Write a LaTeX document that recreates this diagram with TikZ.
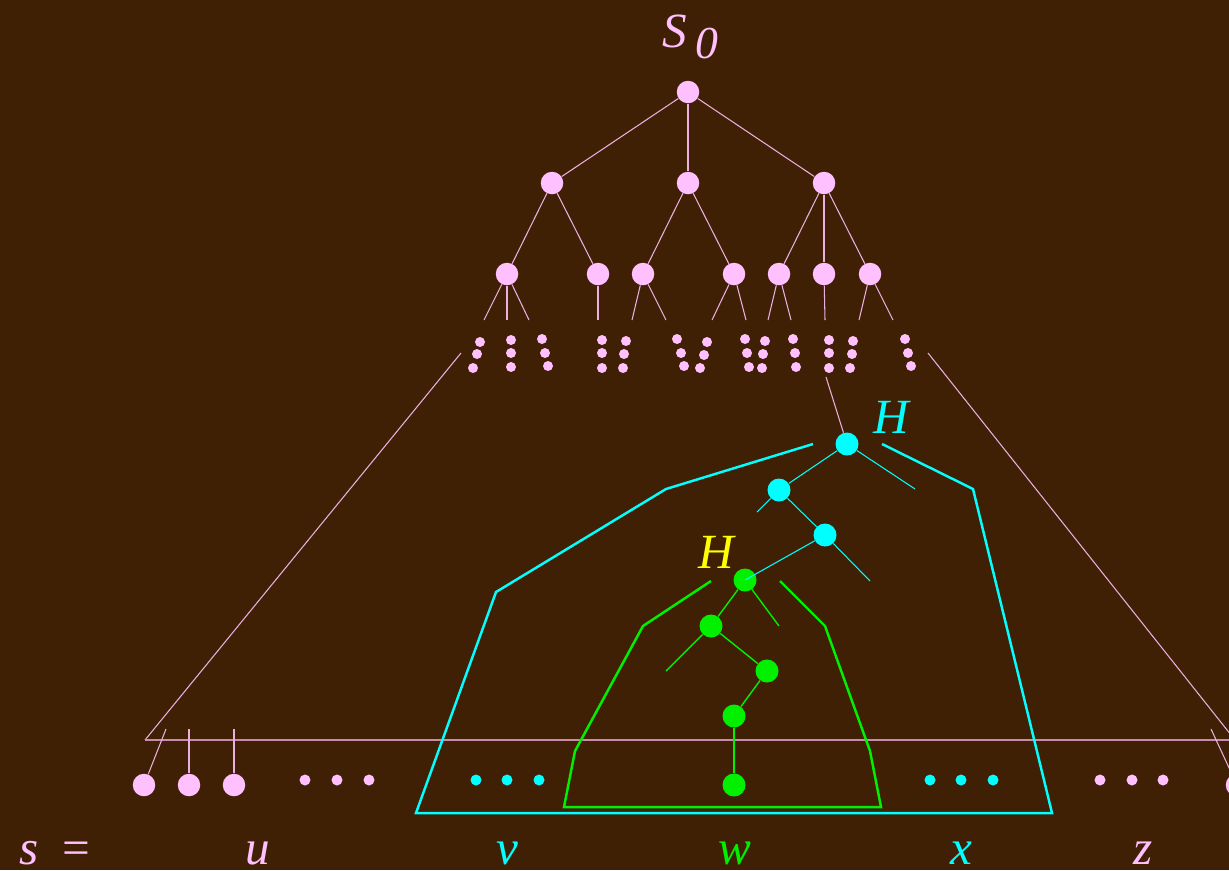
\documentclass[tikz,border=0pt]{standalone}
\usepackage{fontspec}
\setmainfont{Liberation Serif}
\definecolor{bg}{RGB}{64,32,4}
\definecolor{pk}{RGB}{255,192,255}
\definecolor{pkl}{RGB}{235,175,225}
\definecolor{pkh}{RGB}{200,140,170}
\definecolor{cy}{RGB}{0,255,255}
\definecolor{gr}{RGB}{0,240,0}
\definecolor{yl}{RGB}{255,255,0}
\begin{document}
\begin{tikzpicture}[x=0.02cm,y=-0.02cm,
  pnode/.style={circle,fill=pk,inner sep=0pt,minimum size=0.45cm},
  pdot/.style={circle,fill=pk,inner sep=0pt,minimum size=0.2cm},
  sdot/.style={circle,fill=#1,inner sep=0pt,minimum size=0.22cm},
  cnode/.style={circle,fill=cy,inner sep=0pt,minimum size=0.46cm},
  gnode/.style={circle,fill=gr,inner sep=0pt,minimum size=0.46cm},
  pedge/.style={draw=pkl,line width=0.6pt},
  cedge/.style={draw=cy,line width=0.6pt},
  gedge/.style={draw=gr,line width=0.8pt},
  cpoly/.style={draw=cy,line width=1.4pt},
  gpoly/.style={draw=gr,line width=1.4pt},
  lbl/.style={inner sep=0pt,anchor=base,font=\fontsize{28}{30}\selectfont\itshape},
  ]
\useasboundingbox (0,0) rectangle (1229,870);
\fill[bg] (0,0) rectangle (1229,870);

% big triangle
\coordinate (tl) at (461,353);
\coordinate (bl) at (145,740);
\coordinate (tr) at (928,353);
\coordinate (br) at (1235,740);
\coordinate (hr) at (1240,740);
\draw[pedge] (tl) -- (bl);
\draw[pedge] (tr) -- (br);
\draw[draw=pkh,line width=0.9pt] (bl) -- (hr);

% top tree
\node[pnode] (r) at (688,92) {};
\node[pnode] (b1) at (552,183) {};
\node[pnode] (b2) at (688,183) {};
\node[pnode] (b3) at (824,183) {};
\node[pnode] (a1) at (507,274) {};
\node[pnode] (a2) at (598,274) {};
\node[pnode] (a3) at (643,274) {};
\node[pnode] (a4) at (734,274) {};
\node[pnode] (a5) at (779,274) {};
\node[pnode] (a6) at (824,274) {};
\node[pnode] (a7) at (870,274) {};
\draw[pedge] (r) -- (b1); \draw[pedge] (r) -- (b2); \draw[pedge] (r) -- (b3);
\draw[pedge] (b1) -- (a1); \draw[pedge] (b1) -- (a2);
\draw[pedge] (b2) -- (a3); \draw[pedge] (b2) -- (a4);
\draw[pedge] (b3) -- (a5); \draw[pedge] (b3) -- (a6); \draw[pedge] (b3) -- (a7);

\foreach \n/\x in {a1/484,a1/507,a1/529,a2/598,a3/632,a3/666,a4/712,a4/746,a5/768,a5/791,a6/825,a7/859,a7/893}{
  \coordinate (st) at (\x,320);
  \draw[pedge] (\n) -- (st);
}

% dot clusters
\foreach \i/\xa/\ya/\xb/\yb/\xc/\yc in {
 1/480/342/477/354/473/368, 2/511/340/511/353/511/367, 3/542/339/545/353/548/366,
 4/602/340/602/353/602/368, 5/626/341/624/354/623/368, 6/677/339/681/353/684/366,
 7/707/342/704/355/700/368, 8/745/339/747/353/749/367, 9/765/341/763/354/762/368,
 10/793/339/795/353/796/367, 11/829/340/829/353/829/368, 12/853/341/852/354/850/368,
 13/905/339/908/353/911/366}{
  \node[pdot] (d\i a) at (\xa,\ya) {};
  \node[pdot] (d\i b) at (\xb,\yb) {};
  \node[pdot] (d\i c) at (\xc,\yc) {};
}

% label S0
\node[lbl,text=pk] (s0) at (675,47) {S};
\node[lbl,text=pk,font=\fontsize{26}{28}\selectfont\itshape] (s0i) at (707,58) {0};

% cyan subtree
\coordinate (hs) at (826,377);
\node[cnode] (c1) at (847,444) {};
\node[cnode] (c2) at (779,490) {};
\node[cnode] (c3) at (825,535) {};
\node[gnode] (g1) at (745,580) {};
\node[gnode] (g2) at (711,626) {};
\node[gnode] (g3) at (767,671) {};
\node[gnode] (g4) at (734,716) {};
\node[gnode] (g5) at (734,785) {};
\draw[pedge] (hs) -- (c1);
\coordinate (cs1) at (915,489);
\coordinate (cs2) at (757,512);
\coordinate (cs3) at (870,581);
\draw[cedge] (c1) -- (c2);
\draw[cedge] (c1) -- (cs1);
\draw[cedge] (c2) -- (cs2);
\draw[cedge] (c2) -- (c3);
\draw[cedge] (c3) -- (cs3);
\draw[cedge] (c3) -- (g1.center);
\coordinate (gs1) at (779,626);
\coordinate (gs2) at (666,671);
\draw[gedge] (g1) -- (g2);
\draw[gedge] (g1) -- (gs1);
\draw[gedge] (g2) -- (gs2);
\draw[gedge] (g2) -- (g3);
\draw[gedge] (g3) -- (g4);
\draw[gedge] (g4) -- (g5);

\node[lbl,text=cy] (hc) at (891,433) {H};
\node[lbl,text=yl] (hy) at (716,568) {H};

% cyan polygon
\coordinate (p1) at (813,444);
\coordinate (p2) at (666,489);
\coordinate (p3) at (496,592);
\coordinate (p4) at (416,813);
\coordinate (p5) at (1052,813);
\coordinate (p6) at (973,489);
\coordinate (p7) at (882,444);
\draw[cpoly,line join=miter] (p1) -- (p2) -- (p3) -- (p4) -- (p5) -- (p6) -- (p7);

% green polygon
\coordinate (q1) at (711,581);
\coordinate (q2) at (643,626);
\coordinate (q3) at (575,751);
\coordinate (q4) at (564,807);
\coordinate (q5) at (881,807);
\coordinate (q6) at (870,751);
\coordinate (q7) at (825,626);
\coordinate (q8) at (780,581);
\draw[gpoly] (q1) -- (q2) -- (q3) -- (q4) -- (q5) -- (q6) -- (q7) -- (q8);

% bottom leaves
\node[pnode] (l1) at (144,785) {};
\node[pnode] (l2) at (189,785) {};
\node[pnode] (l3) at (234,785) {};
\node[pnode] (l4) at (1237,785) {};
\coordinate (ls1) at (166,729);
\coordinate (ls2) at (189,729);
\coordinate (ls3) at (234,729);
\coordinate (ls4) at (1211,729);
\draw[pedge] (ls1) -- (l1);
\draw[pedge] (ls2) -- (l2);
\draw[pedge] (ls3) -- (l3);
\draw[pedge] (ls4) -- (l4);

\foreach \i/\x/\c in {1/305/pk,2/337/pk,3/369/pk,4/476/cy,5/507/cy,6/539/cy,7/930/cy,8/961/cy,9/993/cy,10/1100/pk,11/1132/pk,12/1163/pk}{
  \node[sdot=\c] (e\i) at (\x,780) {};
}

% bottom labels
\node[lbl,text=pk] (ls) at (55,864) {s\hspace{14pt}\textup{=}};
\node[lbl,text=pk] (lu) at (258,864) {u};
\node[lbl,text=cy] (lv) at (507,864) {v};
\node[lbl,text=gr] (lw) at (735,864) {w};
\node[lbl,text=cy] (lx) at (961,864) {x};
\node[lbl,text=pk] (lz) at (1143,864) {z};
\end{tikzpicture}
\end{document}
